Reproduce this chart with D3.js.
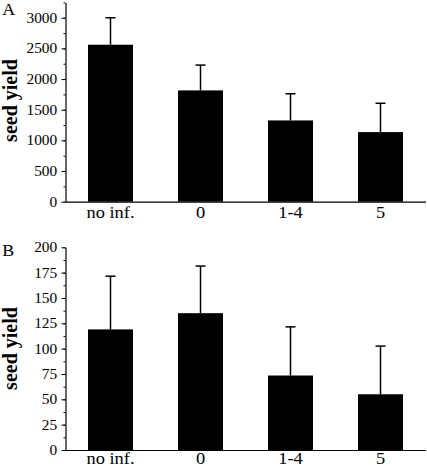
<!DOCTYPE html>
<html><head><meta charset="utf-8">
<script src="https://cdn.jsdelivr.net/npm/d3@7"></script>
<style>body{margin:0;background:#fff}svg{display:block}</style>
</head><body>
<script>
const categories = ["no inf.", "0", "1-4", "5"];
const meansA = [2560, 1815, 1325, 1135];
const errTopA = [3000, 2228, 1760, 1605];
const meansB = [119, 135, 73.5, 55];
const errTopB = [171.5, 181.5, 121.5, 102.5];
const ticksA = [0, 500, 1000, 1500, 2000, 2500, 3000];
const ticksB = [0, 25, 50, 75, 100, 125, 150, 175, 200];

const W = 427, H = 467;
const svg = d3.select("body").append("svg").attr("width", W).attr("height", H);
const font = "'Liberation Serif','Times New Roman',serif";
const AX = 65.5;

function panel(opt) {
  const x = d3.scaleBand().domain(categories).range([AX, 425.5]).paddingInner(0.5).paddingOuter(0.25);
  const y = d3.scaleLinear().domain([0, opt.max]).range([opt.y0, opt.yTop]);
  const g = svg.append("g");
  g.selectAll("rect.bar").data(opt.means).join("rect")
    .attr("x", (d, i) => x(categories[i]))
    .attr("width", x.bandwidth())
    .attr("y", d => y(d))
    .attr("height", d => y(0) - y(d))
    .attr("fill", "#000");
  const cx = i => x(categories[i]) + x.bandwidth() / 2;
  g.selectAll("line.err").data(opt.errTop).join("line")
    .attr("x1", (d, i) => cx(i)).attr("x2", (d, i) => cx(i))
    .attr("y1", (d, i) => y(opt.means[i])).attr("y2", d => y(d))
    .attr("stroke", "#000").attr("stroke-width", 1.5);
  g.selectAll("line.cap").data(opt.errTop).join("line")
    .attr("x1", (d, i) => cx(i) - 5).attr("x2", (d, i) => cx(i) + 5)
    .attr("y1", d => y(d)).attr("y2", d => y(d))
    .attr("stroke", "#000").attr("stroke-width", 1.5);
  const minor = d3.range(0, opt.max + 1e-9, opt.minorStep);
  g.append("g").attr("transform", `translate(${AX},0)`)
    .call(d3.axisLeft(y).tickValues(minor).tickSize(2).tickFormat(""))
    .call(s => s.select(".domain").remove())
    .selectAll("line").attr("stroke", "#000");
  const ay = g.append("g").attr("transform", `translate(${AX},0)`)
    .call(d3.axisLeft(y).tickValues(opt.ticks).tickSize(4).tickSizeOuter(0).tickPadding(3.5).tickFormat(d3.format("d")));
  ay.select(".domain").attr("stroke", "#000").attr("stroke-width", 1.2);
  ay.selectAll("line").attr("stroke", "#000");
  ay.selectAll("text").attr("font-family", font).attr("font-size", 14).attr("fill", "#000")
    .attr("transform", "scale(1.1,1)");
  const ax = g.append("g").attr("transform", `translate(0,${opt.y0})`)
    .call(d3.axisBottom(x).tickSize(0));
  ax.select(".domain").attr("stroke", "#000").attr("stroke-width", 1.2);
  ax.selectAll("text").attr("font-family", font).attr("font-size", 16).attr("fill", "#000")
    .attr("dy", 0).attr("y", opt.xLabBase - opt.y0)
    .attr("transform", "scale(1.15,1)");
  g.append("text")
    .attr("transform", `translate(16.5,${opt.labelY}) rotate(-90)`)
    .attr("text-anchor", "middle")
    .attr("font-family", font).attr("font-weight", "bold").attr("font-size", 20)
    .text("seed yield");
  g.append("text").attr("x", 2).attr("y", opt.letterY)
    .attr("transform", "scale(1.12,1)")
    .attr("font-family", font).attr("font-size", 16).text(opt.letter);
}

panel({ means: meansA, errTop: errTopA, ticks: ticksA, max: 3250, minorStep: 250,
  y0: 201.7, yTop: 2.4, labelY: 100.5, letter: "A", letterY: 15, xLabBase: 218 });
panel({ means: meansB, errTop: errTopB, ticks: ticksB, max: 200, minorStep: 12.5,
  y0: 450, yTop: 247.3, labelY: 348.5, letter: "B", letterY: 256, xLabBase: 463.5 });
</script>
</body></html>
